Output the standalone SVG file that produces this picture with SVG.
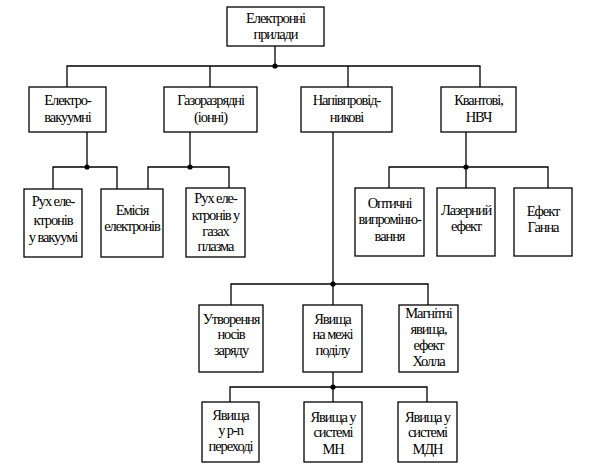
<svg xmlns="http://www.w3.org/2000/svg" width="589" height="475" viewBox="0 0 589 475">
<style>
rect{fill:#fff;stroke:#000;stroke-width:1.3}
.c line,.c path{stroke:#000;stroke-width:1.3;fill:none}
.c circle{fill:#000}
text{font-family:'Liberation Serif','DejaVu Serif',serif;font-size:14.5px;text-anchor:middle;fill:#000;letter-spacing:-1.1px}
</style>
<rect x="0" y="0" width="589" height="475" style="stroke:none"/>
<g class="c" id="connectors">
<line x1="275" y1="46" x2="275" y2="66"/>
<path d="M67,87 V66 H480 V87"/>
<line x1="210" y1="66" x2="210" y2="87"/>
<line x1="348" y1="66" x2="348" y2="87"/>
<circle cx="275" cy="66" r="2.6"/>
<line x1="87" y1="132" x2="87" y2="167"/>
<path d="M53,189 V167 H117 V189"/>
<circle cx="87" cy="167" r="2.6"/>
<line x1="190" y1="132" x2="190" y2="167"/>
<path d="M148,189 V167 H229 V189"/>
<circle cx="190" cy="167" r="2.6"/>
<line x1="466" y1="132" x2="466" y2="188"/>
<path d="M389,188 V167 H548 V188"/>
<circle cx="466" cy="167" r="2.6"/>
<line x1="333" y1="132" x2="333" y2="305"/>
<path d="M231,305 V284 H428 V305"/>
<circle cx="333" cy="284" r="2.6"/>
<line x1="333" y1="372" x2="333" y2="402"/>
<path d="M230,402 V387 H427 V402"/>
<circle cx="333" cy="387" r="2.6"/>
</g>
<g id="n0"><rect x="227" y="7" width="97" height="39"/><text x="275.5" y="23">Електронні</text><text x="275.5" y="39">прилади</text></g>
<g id="n1"><rect x="29" y="87" width="77" height="45"/><text x="67.5" y="105">Електро-</text><text x="67.5" y="122">вакуумні</text></g>
<g id="n2"><rect x="164" y="87" width="93" height="45"/><text x="210.5" y="105">Газоразрядні</text><text x="210.5" y="122">(іонні)</text></g>
<g id="n3"><rect x="301" y="87" width="91" height="45"/><text x="346.5" y="105">Напівпровід-</text><text x="346.5" y="122">никові</text></g>
<g id="n4"><rect x="441" y="87" width="75" height="45"/><text x="478.5" y="105">Квантові,</text><text x="478.5" y="122">НВЧ</text></g>
<g id="n1a"><rect x="24" y="189" width="58" height="68"/><text x="53" y="206">Рух еле-</text><text x="53" y="225">ктронів</text><text x="53" y="242">у вакуумі</text></g>
<g id="n1b"><rect x="101" y="189" width="62" height="68"/><text x="132" y="215">Емісія</text><text x="132" y="231">електронів</text></g>
<g id="n2a"><rect x="186" y="188" width="59" height="69"/><text x="215.5" y="203">Рух еле-</text><text x="215.5" y="220">ктронів у</text><text x="215.5" y="236">газах</text><text x="215.5" y="251">плазма</text></g>
<g id="n4a"><rect x="355" y="188" width="69" height="68"/><text x="389.5" y="208">Оптичні</text><text x="389.5" y="224">випроміню-</text><text x="389.5" y="241">вання</text></g>
<g id="n4b"><rect x="437" y="188" width="58" height="68"/><text x="466" y="215">Лазерний</text><text x="466" y="231">ефект</text></g>
<g id="n4c"><rect x="514" y="188" width="58" height="68"/><text x="543" y="216">Ефект</text><text x="543" y="232">Ганна</text></g>
<g id="n3a"><rect x="199" y="305" width="64" height="67"/><text x="231" y="324">Утворення</text><text x="231" y="339">носів</text><text x="231" y="355">заряду</text></g>
<g id="n3b"><rect x="303" y="305" width="59" height="67"/><text x="332.5" y="324">Явища</text><text x="332.5" y="339">на межі</text><text x="332.5" y="355">поділу</text></g>
<g id="n3c"><rect x="399" y="305" width="59" height="67"/><text x="428.5" y="318">Магнітні</text><text x="428.5" y="334">явища,</text><text x="428.5" y="350">ефект</text><text x="428.5" y="366">Холла</text></g>
<g id="n3d"><rect x="202" y="402" width="57" height="60"/><text x="230.5" y="420">Явища</text><text x="230.5" y="435">у p-n</text><text x="230.5" y="451">переході</text></g>
<g id="n3e"><rect x="304" y="402" width="58" height="60"/><text x="333" y="422">Явища у</text><text x="333" y="437">системі</text><text x="333" y="454">МН</text></g>
<g id="n3f"><rect x="398" y="402" width="59" height="60"/><text x="427.5" y="422">Явища у</text><text x="427.5" y="437">системі</text><text x="427.5" y="454">МДН</text></g>
</svg>
